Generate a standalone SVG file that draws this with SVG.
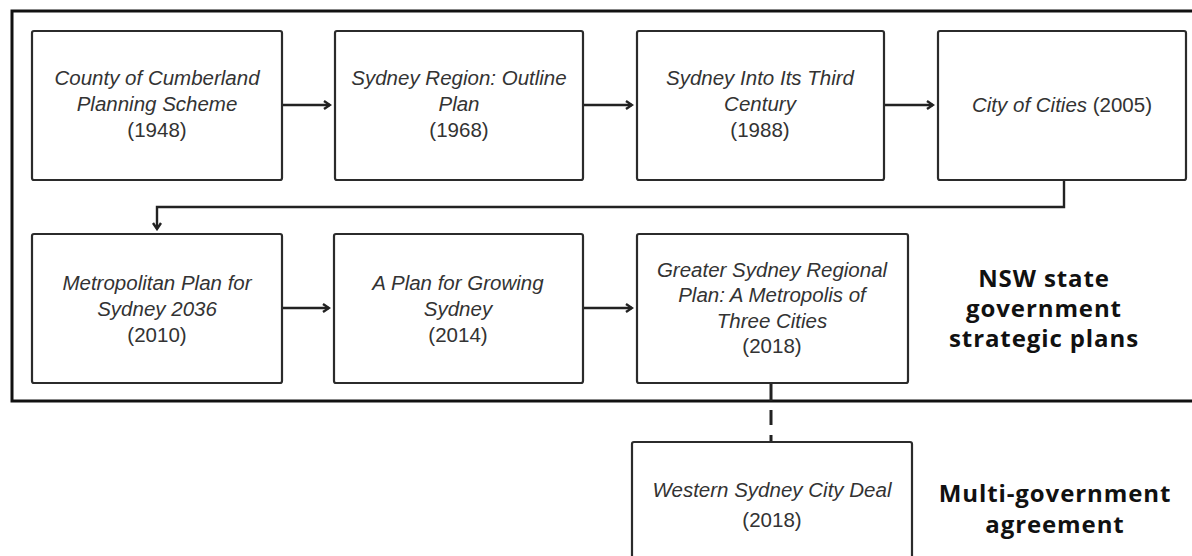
<svg xmlns="http://www.w3.org/2000/svg" width="1192" height="556" viewBox="0 0 1192 556">
<defs>
<style>
.box{fill:#fff;stroke:#2b2b2b;stroke-width:2.2}
.t{font-family:"Liberation Sans",Arial,sans-serif;font-size:20.5px;fill:#333;text-anchor:middle}
.i{font-style:italic}
.lbl{font-family:"Open Sans","Liberation Sans",sans-serif;font-weight:700;font-size:24px;letter-spacing:0.9px;fill:#111;text-anchor:middle}
.c{fill:none;stroke:#222;stroke-width:2.4}
</style>
<marker id="ah" markerWidth="10" markerHeight="10" refX="8" refY="5" orient="auto" markerUnits="userSpaceOnUse">
<path d="M2,1 L8,5 L2,9" fill="none" stroke="#222" stroke-width="2.4"/>
</marker>
</defs>
<rect x="0" y="0" width="1192" height="556" fill="#fff"/>
<rect id="frame" x="12" y="11" width="1200" height="390" fill="none" stroke="#111" stroke-width="3"/>

<g id="connectors">
<line class="c" x1="282" y1="105" x2="330" y2="105" marker-end="url(#ah)"/>
<line class="c" x1="583" y1="105" x2="632" y2="105" marker-end="url(#ah)"/>
<line class="c" x1="884" y1="105" x2="933" y2="105" marker-end="url(#ah)"/>
<path class="c" d="M1064,180 V207 H157 V229" marker-end="url(#ah)"/>
<line class="c" x1="282" y1="308" x2="329" y2="308" marker-end="url(#ah)"/>
<line class="c" x1="583" y1="308" x2="632" y2="308" marker-end="url(#ah)"/>
<line x1="771" y1="383" x2="771" y2="442" stroke="#222" stroke-width="3" stroke-dasharray="18 9 15 10 8"/>
</g>

<g id="n1">
<rect class="box" x="32" y="31" width="250" height="149" rx="2"/>
<text class="t i" x="157" y="85">County of Cumberland</text>
<text class="t i" x="157" y="111">Planning Scheme</text>
<text class="t" x="157" y="137">(1948)</text>
</g>
<g id="n2">
<rect class="box" x="335" y="31" width="248" height="149" rx="2"/>
<text class="t i" x="459" y="85">Sydney Region: Outline</text>
<text class="t i" x="459" y="111">Plan</text>
<text class="t" x="459" y="137">(1968)</text>
</g>
<g id="n3">
<rect class="box" x="637" y="31" width="247" height="149" rx="2"/>
<text class="t i" x="760" y="85">Sydney Into Its Third</text>
<text class="t i" x="760" y="111">Century</text>
<text class="t" x="760" y="137">(1988)</text>
</g>
<g id="n4">
<rect class="box" x="938" y="31" width="248" height="149" rx="2"/>
<text class="t" x="1062" y="112"><tspan class="i">City of Cities</tspan> (2005)</text>
</g>
<g id="n5">
<rect class="box" x="32" y="234" width="250" height="149" rx="2"/>
<text class="t i" x="157" y="290">Metropolitan Plan for</text>
<text class="t i" x="157" y="316">Sydney 2036</text>
<text class="t" x="157" y="342">(2010)</text>
</g>
<g id="n6">
<rect class="box" x="334" y="234" width="249" height="149" rx="2"/>
<text class="t i" x="458" y="290">A Plan for Growing</text>
<text class="t i" x="458" y="316">Sydney</text>
<text class="t" x="458" y="342">(2014)</text>
</g>
<g id="n7">
<rect class="box" x="637" y="234" width="271" height="149" rx="2"/>
<text class="t i" x="772" y="277">Greater Sydney Regional</text>
<text class="t i" x="772" y="302">Plan: A Metropolis of</text>
<text class="t i" x="772" y="328">Three Cities</text>
<text class="t" x="772" y="353">(2018)</text>
</g>
<g id="n8">
<rect class="box" x="632" y="442" width="280" height="140" rx="2"/>
<text class="t i" x="772" y="497">Western Sydney City Deal</text>
<text class="t" x="772" y="527">(2018)</text>
</g>
<g id="label-nsw">
<text class="lbl" x="1044" y="287">NSW state</text>
<text class="lbl" x="1044" y="317">government</text>
<text class="lbl" x="1044" y="347">strategic plans</text>
</g>
<g id="label-multi">
<text class="lbl" x="1055" y="502">Multi-government</text>
<text class="lbl" x="1055" y="533">agreement</text>
</g>
</svg>
